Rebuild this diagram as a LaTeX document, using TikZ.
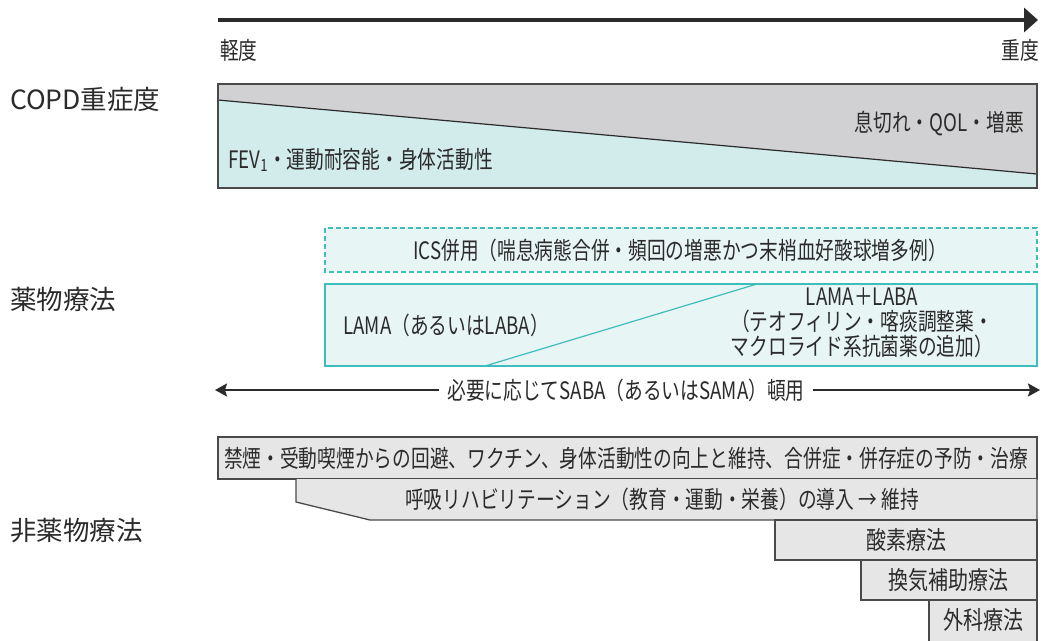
\documentclass[tikz,border=0pt]{standalone}
\usepackage{fontspec}
\setmainfont{Noto Sans CJK JP}
\newfontfamily\jpc[FakeStretch=0.78]{Noto Sans CJK JP}
\newfontfamily\jpd[FakeStretch=0.8]{Noto Sans CJK JP}
\usetikzlibrary{arrows.meta}
\definecolor{txt}{HTML}{2B2B2B}
\definecolor{gtop}{HTML}{D1D1D3}
\definecolor{tealfill}{HTML}{D2EBEB}
\definecolor{tealline}{HTML}{3FBDBD}
\definecolor{tealbg}{HTML}{E8F5F5}
\definecolor{boxgray}{HTML}{E6E6E7}
\definecolor{edge}{HTML}{4A4A4A}
\begin{document}
\begin{tikzpicture}[x=1pt,y=-1pt,
  lbl/.style={font=\fontsize{26.5}{30}\selectfont, text=txt, anchor=west, inner sep=0pt},
  t/.style={font=\jpc\fontsize{24}{25}\selectfont, text=txt, inner sep=0pt},
  tb/.style={font=\jpd\fontsize{25}{26}\selectfont, text=txt, inner sep=0pt},
  nd/.style={fill=boxgray, draw=edge, line width=1.3pt},
  medbox/.style={draw=tealline, fill=tealbg, line width=1.4pt}]
\useasboundingbox (0,0) rectangle (1041,640);

% severity axis
\coordinate (a0) at (218,20);
\coordinate (a1) at (1038,20);
\draw[txt, line width=4pt, -{Triangle[length=14pt,width=24pt]}] (a0) -- (a1);
\node[t, anchor=west] (mild) at (220,50) {軽度};
\node[t, anchor=east] (severe) at (1039,50) {重度};

% left labels
\node[lbl] (copd) at (10,99) {COPD重症度};
\node[lbl] (drug) at (10,299) {薬物療法};
\node[lbl] (nondrug) at (10,531) {非薬物療法};

% COPD severity box
\fill[gtop] (218,84) rectangle (1037,188);
\fill[tealfill] (218,100) -- (1037,174) -- (1037,188) -- (218,188) -- cycle;
\draw[txt, line width=1.2pt] (218,100) -- (1037,174);
\draw[edge, line width=1.5pt] (218,84) rectangle (1037,188);
\node[t, anchor=east] (dys) at (1024,124) {息切れ・QOL・増悪};
\node[t, anchor=west] (fev) at (228,160) {FEV\textsubscript{1}・運動耐容能・身体活動性};

% pharmacotherapy
\draw[medbox, dash pattern=on 5pt off 3pt, line width=1.2pt] (325,228) rectangle (1037,272);
\node[t] (ics) at (680,250) {ICS併用（喘息病態合併・頻回の増悪かつ末梢血好酸球増多例）};
\draw[medbox] (325,284) rectangle (1037,366);
\draw[tealline, line width=1.2pt] (757,284) -- (485,366);
\node[t, anchor=west] (lama) at (343,325) {LAMA（あるいはLABA）};
\node[t, align=center] (combo) at (862,323) {LAMA＋LABA\\（テオフィリン・喀痰調整薬・\\マクロライド系抗菌薬の追加）};

% SABA
\node[t, fill=white, inner xsep=8pt, inner ysep=2pt] (saba) at (626,390) {必要に応じてSABA（あるいはSAMA）頓用};
\coordinate (sL) at (215,390);
\coordinate (sR) at (1040,390);
\draw[txt, line width=2pt, -{Stealth[length=12pt,width=13pt,inset=2pt]}] (saba.west) -- (sL);
\draw[txt, line width=2pt, -{Stealth[length=12pt,width=13pt,inset=2pt]}] (saba.east) -- (sR);

% non-pharmacotherapy
\draw[nd] (218,437) rectangle (1037,479);
\draw[nd] (296,479) -- (296,502) -- (370,520) -- (1037,520) -- (1037,479);
\draw[nd] (775,520) rectangle (1037,560);
\draw[nd] (861,560) rectangle (1037,600);
\draw[nd] (929,600) rectangle (1037,643);
\node[t] (r1) at (626,458) {禁煙・受動喫煙からの回避、ワクチン、身体活動性の向上と維持、合併症・併存症の予防・治療};
\node[t] (r2) at (662,499) {呼吸リハビリテーション（教育・運動・栄養）の導入 → 維持};
\node[tb] (r3) at (906,540) {酸素療法};
\node[tb] (r4) at (948,580) {換気補助療法};
\node[tb] (r5) at (983,620) {外科療法};
\end{tikzpicture}
\end{document}
